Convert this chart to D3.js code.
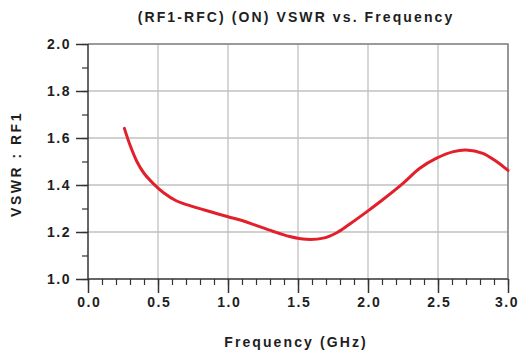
<!DOCTYPE html>
<html><head><meta charset="utf-8">
<script src="https://cdn.jsdelivr.net/npm/d3@7"></script>
<style>body{margin:0;background:#fff}svg{display:block}text{font-family:"Liberation Sans",Arial,sans-serif;font-weight:bold;fill:#1e1e1e}</style>
</head><body><svg id="c" width="519" height="358"></svg>
<script>
const titleText = "(RF1-RFC) (ON) VSWR vs. Frequency";
const xLabel = "Frequency (GHz)";
const yLabel = "VSWR : RF1";
const xTicks = [0.0, 0.5, 1.0, 1.5, 2.0, 2.5, 3.0];
const yTicks = [1.0, 1.2, 1.4, 1.6, 1.8, 2.0];
const freq = [0.26,0.30,0.35,0.40,0.47,0.54,0.63,0.75,0.87,1.00,1.10,1.20,1.32,1.44,1.56,1.68,1.78,1.87,2.00,2.10,2.25,2.37,2.49,2.61,2.70,2.82,2.92,3.00];
const vswr = [1.641,1.570,1.499,1.450,1.404,1.367,1.333,1.308,1.287,1.265,1.249,1.228,1.203,1.181,1.169,1.174,1.198,1.234,1.290,1.335,1.407,1.471,1.514,1.542,1.549,1.535,1.499,1.462];

const svg = d3.select("#c");
const L = 88, R = 508, T = 44, B = 279;
const x = d3.scaleLinear().domain([0, 3]).range([L, R]);
const y = d3.scaleLinear().domain([1, 2]).range([B, T]);

// grid
const g = svg.append("g");
g.selectAll("line.vg").data(xTicks.slice(1)).join("line")
  .attr("x1", d => x(d)).attr("x2", d => x(d)).attr("y1", T).attr("y2", B)
  .attr("stroke", "#c0c0c0").attr("stroke-width", 1.3);
g.selectAll("line.hg").data(yTicks.slice(1)).join("line")
  .attr("x1", L).attr("x2", R).attr("y1", d => y(d)).attr("y2", d => y(d))
  .attr("stroke", "#c0c0c0").attr("stroke-width", 1.3);
// frame top/right
svg.append("path").attr("d", `M${L},${T}H${R}V${B}`).attr("fill", "none")
  .attr("stroke", "#888").attr("stroke-width", 1.6);

// curve
const line = d3.line().x((d, i) => x(freq[i])).y(d => y(d)).curve(d3.curveCatmullRom.alpha(0.5));
svg.append("path").datum(vswr).attr("d", line).attr("fill", "none")
  .attr("stroke", "#e21f2b").attr("stroke-width", 3).attr("stroke-linecap", "round");

// x axis
const xMinor = d3.range(0, 31).map(i => i / 10);
svg.append("g").attr("transform", `translate(0,${B})`).call(d3.axisBottom(x).tickValues(xMinor).tickSize(6).tickFormat(""))
  .call(s => s.select(".domain").remove())
  .call(s => s.selectAll("line").attr("stroke", "#333").attr("stroke-width", 1.2));
svg.append("g").attr("transform", `translate(0,${B})`).call(d3.axisBottom(x).tickValues(xTicks).tickSize(14).tickPadding(4).tickFormat(d3.format(".1f")))
  .call(s => s.select(".domain").remove())
  .call(s => s.selectAll("line").attr("stroke", "#333").attr("stroke-width", 1.5))
  .call(s => s.selectAll("text").attr("font-size", 14).attr("letter-spacing", 1.5)
    .attr("dx", d => d === 3 ? -1.5 : 0.75).attr("fill", "#1e1e1e"));
svg.append("line").attr("x1", L).attr("x2", R).attr("y1", B).attr("y2", B).attr("stroke", "#333").attr("stroke-width", 1.5);

// y axis
const yMinor = d3.range(10, 21).map(i => i / 10);
svg.append("g").attr("transform", `translate(${L},0)`).call(d3.axisLeft(y).tickValues(yMinor).tickSize(6).tickFormat(""))
  .call(s => s.select(".domain").remove())
  .call(s => s.selectAll("line").attr("stroke", "#333").attr("stroke-width", 1.2));
svg.append("g").attr("transform", `translate(${L},0)`).call(d3.axisLeft(y).tickValues(yTicks).tickSize(12).tickPadding(5).tickFormat(d3.format(".1f")))
  .call(s => s.select(".domain").remove())
  .call(s => s.selectAll("line").attr("stroke", "#333").attr("stroke-width", 1.5))
  .call(s => s.selectAll("text").attr("font-size", 14).attr("letter-spacing", 1.5).attr("fill", "#1e1e1e"));
svg.append("line").attr("x1", L).attr("x2", L).attr("y1", T).attr("y2", B).attr("stroke", "#333").attr("stroke-width", 1.5);

// labels
svg.append("text").attr("x", 296).attr("y", 22).attr("text-anchor", "middle")
  .attr("font-size", 14).attr("letter-spacing", 2.1).text(titleText);
svg.append("text").attr("x", 296).attr("y", 347).attr("text-anchor", "middle")
  .attr("font-size", 14).attr("letter-spacing", 2.1).text(xLabel);
svg.append("text").attr("transform", "translate(21,164) rotate(-90)").attr("text-anchor", "middle")
  .attr("font-size", 14).attr("letter-spacing", 2.5).text(yLabel);
</script></body></html>
